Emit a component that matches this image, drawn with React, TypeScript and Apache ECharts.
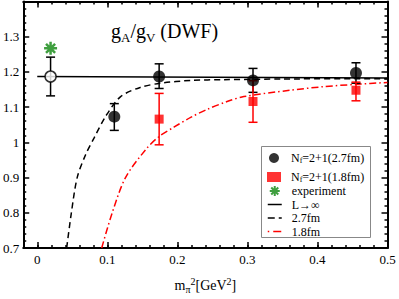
import React, { useEffect, useRef } from 'react';
import * as echarts from 'echarts';

const FONT = '"Liberation Serif", "Times New Roman", Times, serif';

const xMajorTicks = [0, 0.1, 0.2, 0.3, 0.4, 0.5];

// N_f=2+1 (2.7fm) lattice points
const lat27X = [0.11, 0.174, 0.308, 0.455];
const lat27Y = [1.073, 1.187, 1.176, 1.197];
const lat27Lo = [1.034, 1.153, 1.142, 1.168];
const lat27Hi = [1.11, 1.223, 1.21, 1.226];

// N_f=2+1 (1.8fm) lattice points
const lat18X = [0.174, 0.308, 0.455];
const lat18Y = [1.066, 1.116, 1.148];
const lat18Lo = [0.993, 1.057, 1.118];
const lat18Hi = [1.139, 1.175, 1.171];

// extrapolated value (open circle)
const extX = [0.019];
const extY = [1.187];
const extLo = [1.132];
const extHi = [1.242];

// experiment
const expX = [0.019];
const expY = [1.267];

// fit curves
const fitInfX = [0, 0.5];
const fitInfY = [1.187, 1.183];
const fit27X = [0.042, 0.0487, 0.057, 0.069, 0.081, 0.098, 0.119, 0.147, 0.176, 0.22, 0.266, 0.35, 0.5];
const fit27Y = [0.7, 0.8, 0.9, 0.965, 1.012, 1.075, 1.13, 1.156, 1.168, 1.176, 1.178, 1.18, 1.181];
const fit18X = [0.092, 0.107, 0.126, 0.155, 0.1735, 0.195, 0.219, 0.243, 0.271, 0.295, 0.361, 0.408, 0.456, 0.5];
const fit18Y = [0.7, 0.8, 0.9, 0.98, 1.016, 1.043, 1.071, 1.094, 1.116, 1.13, 1.148, 1.158, 1.165, 1.17];

const ASTERISK = 'path://M5 0L5 10M0 5L10 5M1.5 1.5L8.5 8.5M8.5 1.5L1.5 8.5';
const GREEN = '#0f870f';

const zip = (xs: number[], ys: number[]) => xs.map((x, i) => [x, ys[i]]);

const errSeries = (name: string, xs: number[], lo: number[], hi: number[], color: string) => ({
  type: 'custom',
  name,
  xAxisIndex: 0,
  yAxisIndex: 0,
  silent: true,
  z: 3,
  data: xs.map((x, i) => [x, lo[i], hi[i]]),
  encode: { x: 0, y: [1, 2] },
  renderItem: (_params: any, api: any) => {
    const x = api.value(0);
    const pL = api.coord([x, api.value(1)]);
    const pH = api.coord([x, api.value(2)]);
    const cw = 4.5;
    const style = { stroke: color, lineWidth: 1.5 };
    return {
      type: 'group',
      children: [
        { type: 'line', shape: { x1: pL[0], y1: pL[1], x2: pH[0], y2: pH[1] }, style },
        { type: 'line', shape: { x1: pL[0] - cw, y1: pL[1], x2: pL[0] + cw, y2: pL[1] }, style },
        { type: 'line', shape: { x1: pH[0] - cw, y1: pH[1], x2: pH[0] + cw, y2: pH[1] }, style },
      ],
    };
  },
});

const xAxisBase = (position: string) => ({
  type: 'value',
  min: -0.02,
  max: 0.5,
  position,
  splitLine: { show: false },
});

export default function App() {
  const ref = useRef<HTMLDivElement>(null);
  useEffect(() => {
    if (!ref.current) return;
    const chart = echarts.init(ref.current, undefined, { renderer: 'svg' });
    const legendText = {
      fontFamily: FONT,
      fontSize: 12,
      fontWeight: 'normal',
      color: '#000',
      lineHeight: 12,
      padding: [0, 0, 0, 5],
      rich: {
        n: { fontFamily: FONT, fontSize: 12, fontWeight: 'normal', color: '#000', lineHeight: 12 },
        f: { fontFamily: FONT, fontSize: 8, fontWeight: 'normal', color: '#000', lineHeight: 6, verticalAlign: 'bottom' },
      },
    };
    const legendFormatter = (name: string) => {
      if (name.startsWith('Nf')) return '{n|N}{f|f}{n|' + name.slice(2) + '}';
      return '{n|' + name + '}';
    };
    chart.setOption({
      animation: false,
      backgroundColor: '#fff',
      grid: { left: 22.5, right: 11.5, top: 1.5, bottom: 42, containLabel: false },
      title: {
        text: '{g|g}{s|A}{g|/g}{s|V}{g| (DWF)}',
        left: 111,
        top: 21,
        padding: 0,
        textStyle: {
          fontWeight: 'normal',
          rich: {
            g: { fontFamily: FONT, fontSize: 20, fontWeight: 'normal', color: '#000', lineHeight: 23, verticalAlign: 'top' },
            s: { fontFamily: FONT, fontSize: 13, fontWeight: 'normal', color: '#000', lineHeight: 8, verticalAlign: 'bottom' },
          },
        },
      },
      xAxis: [
        {
          ...xAxisBase('bottom'),
          axisLine: { onZero: false, lineStyle: { color: '#000', width: 2 } },
          axisTick: { inside: true, length: 6, customValues: xMajorTicks, lineStyle: { color: '#000', width: 1.5 } },
          axisLabel: { customValues: xMajorTicks, fontFamily: FONT, fontSize: 13, color: '#000', margin: 5 },
          name: '{n|m}{sub|π}{sup|2}{n|[GeV}{sup|2}{n|]}',
          nameLocation: 'middle',
          nameGap: 28,
          nameTextStyle: {
            rich: {
              n: { fontFamily: FONT, fontSize: 14, color: '#000', lineHeight: 18 },
              sub: { fontFamily: FONT, fontSize: 10, color: '#000', lineHeight: 6, verticalAlign: 'bottom' },
              sup: { fontFamily: FONT, fontSize: 10, color: '#000', lineHeight: 6, verticalAlign: 'top' },
            },
          },
        },
        {
          ...xAxisBase('bottom'),
          interval: 0.02,
          axisLine: { show: false, onZero: false },
          axisTick: { show: true, inside: true, length: 3, lineStyle: { color: '#000', width: 1.5 } },
          axisLabel: { show: false },
        },
        {
          ...xAxisBase('top'),
          axisLine: { onZero: false, lineStyle: { color: '#000', width: 2 } },
          axisTick: { inside: true, length: 6, customValues: xMajorTicks, lineStyle: { color: '#000', width: 1.5 } },
          axisLabel: { show: false },
        },
        {
          ...xAxisBase('top'),
          interval: 0.02,
          axisLine: { show: false, onZero: false },
          axisTick: { show: true, inside: true, length: 3, lineStyle: { color: '#000', width: 1.5 } },
          axisLabel: { show: false },
        },
      ],
      yAxis: [
        {
          type: 'value',
          min: 0.7,
          max: 1.4,
          interval: 0.1,
          position: 'left',
          splitLine: { show: false },
          axisLine: { show: true, onZero: false, lineStyle: { color: '#000', width: 2 } },
          axisTick: { inside: true, length: 6, lineStyle: { color: '#000', width: 1.5 } },
          minorTick: { show: true, splitNumber: 5, length: 3, lineStyle: { color: '#000', width: 1.5 } },
          axisLabel: { showMaxLabel: false, fontFamily: FONT, fontSize: 13, color: '#000', margin: 4 },
        },
        {
          type: 'value',
          min: 0.7,
          max: 1.4,
          interval: 0.1,
          position: 'right',
          splitLine: { show: false },
          axisLine: { show: true, onZero: false, lineStyle: { color: '#000', width: 2 } },
          axisTick: { inside: true, length: 6, lineStyle: { color: '#000', width: 1.5 } },
          minorTick: { show: true, splitNumber: 5, length: 3, lineStyle: { color: '#000', width: 1.5 } },
          axisLabel: { show: false },
        },
      ],
      legend: [
        {
          data: [
            { name: 'Nf=2+1(2.7fm)', icon: 'circle' },
            { name: 'Nf=2+1(1.8fm)', icon: 'rect' },
          ],
          orient: 'vertical',
          left: 267,
          top: 152,
          padding: 0,
          itemWidth: 14,
          itemHeight: 10,
          itemGap: 7,
          selectedMode: false,
          formatter: legendFormatter,
          textStyle: legendText,
          z: 10,
        },
        {
          data: [
            { name: 'experiment' },
            { name: 'L→∞', itemStyle: { opacity: 0 }, lineStyle: { color: '#000', width: 1.5, type: 'solid' } },
            { name: '2.7fm', itemStyle: { opacity: 0 }, lineStyle: { color: '#000', width: 1.5, type: [7, 4] } },
            { name: '1.8fm', itemStyle: { opacity: 0 }, lineStyle: { color: '#ff0000', width: 1.5, type: [1.5, 4, 8, 3] } },
          ],
          orient: 'vertical',
          left: 267,
          top: 185,
          padding: 0,
          itemWidth: 14,
          itemHeight: 10,
          itemGap: 1.5,
          selectedMode: false,
          formatter: legendFormatter,
          textStyle: legendText,
          z: 10,
        },
      ],
      graphic: [
        {
          type: 'rect',
          shape: { x: 261.5, y: 146.5, width: 109, height: 91 },
          style: { fill: '#fff', stroke: '#888', lineWidth: 1 },
          z: 5,
        },
      ],
      series: [
        {
          type: 'line',
          name: 'L→∞',
          data: zip(fitInfX, fitInfY),
          symbol: 'none',
          lineStyle: { color: '#000', width: 1.5 },
          itemStyle: { color: '#000' },
          z: 2,
        },
        {
          type: 'line',
          name: '2.7fm',
          data: zip(fit27X, fit27Y),
          symbol: 'none',
          smooth: 0.3,
          lineStyle: { color: '#000', width: 1.5, type: [6, 4] },
          itemStyle: { color: '#000' },
          z: 2,
        },
        {
          type: 'line',
          name: '1.8fm',
          data: zip(fit18X, fit18Y),
          symbol: 'none',
          smooth: 0.3,
          lineStyle: { color: '#ff0000', width: 1.5, type: [7, 3, 1.5, 3] },
          itemStyle: { color: '#ff0000' },
          z: 2,
        },
        errSeries('err27', lat27X, lat27Lo, lat27Hi, '#000'),
        errSeries('err18', lat18X, lat18Lo, lat18Hi, '#ff0000'),
        errSeries('errExt', extX, extLo, extHi, '#000'),
        {
          type: 'scatter',
          name: 'Nf=2+1(2.7fm)',
          data: zip(lat27X, lat27Y),
          symbol: 'circle',
          symbolSize: 12,
          itemStyle: { color: '#000' },
          z: 4,
        },
        {
          type: 'scatter',
          name: 'Nf=2+1(1.8fm)',
          data: zip(lat18X, lat18Y),
          symbol: 'rect',
          symbolSize: 9,
          itemStyle: { color: '#ff0000' },
          z: 4,
        },
        {
          type: 'scatter',
          name: 'extrapolated',
          data: zip(extX, extY),
          symbol: 'circle',
          symbolSize: 11,
          itemStyle: { color: '#fff', borderColor: '#000', borderWidth: 1.5 },
          z: 4,
        },
        {
          type: 'scatter',
          name: 'experiment',
          data: zip(expX, expY),
          symbol: ASTERISK,
          symbolSize: 13,
          itemStyle: { color: GREEN, borderColor: GREEN, borderWidth: 2.5 },
          z: 4,
        },
      ],
    });
    return () => chart.dispose();
  }, []);
  return <div ref={ref} style={{ position: 'absolute', left: 0, top: 0, width: 399, height: 299 }} />;
}
